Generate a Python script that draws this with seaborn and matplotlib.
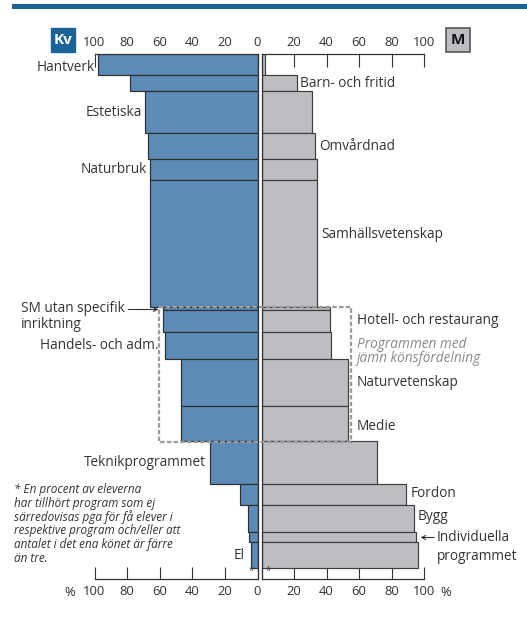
import numpy as np
import matplotlib
matplotlib.use("Agg")
import matplotlib.pyplot as plt
import seaborn as sns
from matplotlib.patches import Rectangle

# ---------------- data ----------------
programs = ["Hantverk", "Barn- och fritid", "Estetiska", "Omvårdnad", "Naturbruk",
            "Samhällsvetenskap", "SM utan specifik inriktning", "Hotell- och restaurang",
            "Handels- och adm.", "Naturvetenskap", "Medie", "Teknikprogrammet",
            "Fordon", "Bygg", "Individuella programmet", "El"]
kv_pct = [98, 78, 69, 67, 66, 66, 58, 58, 57, 47, 47, 29, 11, 6, 5, 4]
m_pct = [2, 22, 31, 33, 34, 34, 42, 42, 43, 53, 53, 71, 89, 94, 95, 96]
# share of all students in each programme (bar thickness)
andel_elever = [4.0, 3.1, 8.1, 4.9, 4.1, 24.3, 0.6, 4.3, 5.1, 9.2, 6.7, 8.3, 4.0, 5.1, 1.9, 5.1]
ovriga_andel = 1.0   # programmes not shown separately (*)
tick_values = [0, 20, 40, 60, 80, 100]

footnote_lines = ["* En procent av eleverna",
                  "har tillhört program som ej",
                  "särredovisas pga för få elever i",
                  "respektive program och/eller att",
                  "antalet i det ena könet är färre",
                  "än tre."]

# ---------------- style ----------------
sns.set_theme(style="white")
plt.rcParams["font.family"] = ["Open Sans", "DejaVu Sans"]
TXT = "#333333"
BLUE = "#5b8bb6"
GREY = "#bdbec2"
EDGE = "#2e2e2e"
DARKBLUE = "#1b6298"
FS = 9.8
TFS = 9.4

W, H = 527, 619
fig = plt.figure(figsize=(W / 100, H / 100), dpi=100)


def fx(px):
    return px / W


top_px, bot_px = 54.3, 579.0
axL = fig.add_axes([fx(94.5), 1 - bot_px / H, fx(257.5 - 94.5), (bot_px - top_px) / H])
axR = fig.add_axes([fx(261.5), 1 - bot_px / H, fx(424.0 - 261.5), (bot_px - top_px) / H])

h = np.array(andel_elever)
tops = np.concatenate([[0], np.cumsum(h)[:-1]])
centers = tops + h / 2
ymax = h.sum() + ovriga_andel + 1.1
other_center = h.sum() + ovriga_andel / 2

axL.barh(centers, kv_pct, height=h, color=BLUE, edgecolor=EDGE, linewidth=0.85, zorder=2)
axR.barh(centers, m_pct, height=h, color=GREY, edgecolor="#3c3c3c", linewidth=0.85, zorder=2)

axL.set_xlim(100, 0)
axR.set_xlim(0, 100)
for ax in (axL, axR):
    ax.set_ylim(ymax, 0)
    ax.set_yticks([])
    ax.set_xticks(tick_values)
    ax.set_axisbelow(True)
    ax.patch.set_alpha(0)
    ax.tick_params(axis="x", which="both", direction="in", length=9, width=0.8,
                   color=TXT, top=True, bottom=True, labeltop=True, labelbottom=True,
                   labelsize=TFS, labelcolor=TXT, pad=4)
    for s in ax.spines.values():
        s.set_color(TXT)
        s.set_linewidth(0.9)
        s.set_zorder(3)
axL.spines["left"].set_visible(False)
axR.spines["right"].set_visible(False)
axL.set_xticklabels([str(v) for v in tick_values])
axR.set_xticklabels(["" if v == 0 else str(v) for v in tick_values])

# asterisks for the "other" share
axL.text(4, other_center, "*", ha="center", va="center", fontsize=7, color=TXT)
axR.text(4, other_center, "*", ha="center", va="center", fontsize=7, color=TXT)

PX = 0.72  # points per pixel


def lab_left(i, dx, dy=0, text=None):
    axL.annotate(text or programs[i], xy=(kv_pct[i], centers[i]), xytext=(dx * PX, -dy * PX),
                 textcoords="offset points", ha="right", va="center", fontsize=FS, color=TXT)


def lab_right(i, dx, dy=0, text=None):
    axR.annotate(text or programs[i], xy=(m_pct[i], centers[i]), xytext=(dx * PX, -dy * PX),
                 textcoords="offset points", ha="left", va="center", fontsize=FS, color=TXT)


lab_left(0, -3, 3)
lab_left(2, -3)
lab_left(4, -3)
lab_left(8, -6)
lab_left(11, -4)
lab_left(15, -6, 1)
lab_right(1, 3)
lab_right(3, 4)
lab_right(5, 4, -8.5)
lab_right(12, 5, -1.5)
lab_right(13, 3, -1.5)

# ---------------- overlay (pixel coords) ----------------
ov = fig.add_axes([0, 0, 1, 1], zorder=10)
ov.set_xlim(0, W)
ov.set_ylim(H, 0)
ov.axis("off")
ov.patch.set_alpha(0)

ov.add_patch(Rectangle((12.3, 4.0), W - 12.3, 4.7, fc=DARKBLUE, ec="none"))
ov.add_patch(Rectangle((50.7, 27.7), 24.6, 24.6, fc=DARKBLUE, ec=DARKBLUE))
ov.text(63, 40.5, "Kv", color="white", fontweight="bold", ha="center", va="center", fontsize=11)
ov.add_patch(Rectangle((445.7, 27.7), 24.4, 24.4, fc=GREY, ec="#4a4a4a", lw=1.1))
ov.text(457.9, 40.5, "M", color="#111111", fontweight="bold", ha="center", va="center", fontsize=11)

ov.text(70, 592, "%", ha="center", va="center", fontsize=TFS, color=TXT)
ov.text(446, 592, "%", ha="center", va="center", fontsize=TFS, color=TXT)

# box around programmes with even gender distribution
ov.add_patch(Rectangle((159.3, 306.7), 191.4, 135.6, fill=False, ec="#9a9a9a", lw=1.6,
                       ls=(0, (2, 1))))


def ypx(v):
    return top_px + v * (bot_px - top_px) / ymax


bx = 356.7
ov.text(bx, ypx(centers[7]), programs[7], ha="left", va="center", fontsize=FS, color=TXT)
ov.text(bx, ypx(centers[9]), programs[9], ha="left", va="center", fontsize=FS, color=TXT)
ov.text(bx, ypx(centers[10]) + 2.5, programs[10], ha="left", va="center", fontsize=FS, color=TXT)
ov.text(bx, 344, "Programmen med", ha="left", va="center", fontsize=FS, color="#8a8a8a", style="italic")
ov.text(bx, 359, "jämn könsfördelning", ha="left", va="center", fontsize=FS, color="#8a8a8a", style="italic")

# SM utan specifik inriktning
ov.text(20.7, 309, "SM utan specifik", ha="left", va="center", fontsize=FS, color=TXT)
ov.text(20.7, 324.5, "inriktning", ha="left", va="center", fontsize=FS, color=TXT)
ov.annotate("", xy=(158.5, 309.5), xytext=(128.5, 309.5),
            arrowprops=dict(arrowstyle="->", lw=0.8, color=TXT, shrinkA=0, shrinkB=0,
                            mutation_scale=7))

# Individuella programmet
ov.annotate("", xy=(420.5, 537.5), xytext=(434, 537.5),
            arrowprops=dict(arrowstyle="->", lw=0.8, color=TXT, shrinkA=0, shrinkB=0,
                            mutation_scale=7))
ov.text(436.7, 537.5, "Individuella", ha="left", va="center", fontsize=FS, color=TXT)
ov.text(436.7, 556.7, "programmet", ha="left", va="center", fontsize=FS, color=TXT)

# footnote
for k, line in enumerate(footnote_lines):
    ov.text(14, 490 + k * 13.66, line, ha="left", va="center", fontsize=8.5,
            style="italic", color=TXT)

fig.savefig("out.png", dpi=100)
